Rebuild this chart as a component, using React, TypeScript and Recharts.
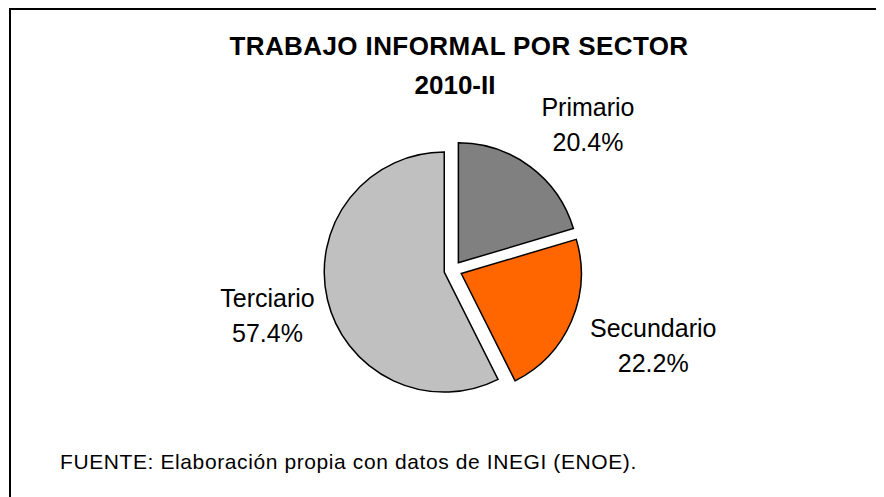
import React from 'react';
import { PieChart, Pie, Cell, Sector } from 'recharts';

const categories = ['Primario', 'Secundario', 'Terciario'];
const shares = [20.4, 22.2, 57.4];
const sliceColors = ['#808080', '#FF6600', '#C0C0C0'];
const titleLines = ['TRABAJO INFORMAL POR SECTOR', '2010-II'];
const sourceNote = 'FUENTE: Elaboración propia con datos de INEGI (ENOE).';

const data = categories.map((name, i) => ({ name, value: shares[i] }));

const RAD = Math.PI / 180;
const EXPLODE = 9;
const FONT = '"Liberation Sans", Arial, Helvetica, sans-serif';

const ExplodedSector = (props: any) => {
  const { cx, cy, midAngle } = props;
  const dx = Math.cos(-midAngle * RAD) * EXPLODE;
  const dy = Math.sin(-midAngle * RAD) * EXPLODE;
  return <Sector {...props} cx={cx + dx} cy={cy + dy} />;
};

const renderLabel = (props: any) => {
  const { cx, cy, midAngle, outerRadius } = props;
  const name = props.name ?? props.payload?.name;
  const value = props.value ?? props.payload?.value;
  const ux = Math.cos(-midAngle * RAD);
  const uy = Math.sin(-midAngle * RAD);
  const pct = `${Number(value).toFixed(1)}%`;
  const bx = cx + (outerRadius + 84) * ux + 13;
  const by = cy + (outerRadius + 65) * uy + 2;
  return (
    <text x={bx} y={by} textAnchor="middle" fontFamily={FONT} fontSize={25} fill="#000">
      <tspan x={bx} y={by - 8}>{name}</tspan>
      <tspan x={bx} y={by + 27}>{pct}</tspan>
    </text>
  );
};

export default function App() {
  return (
    <div style={{ position: 'relative', width: 876, height: 489, overflow: 'hidden' }}>
      <div
        style={{
          position: 'absolute',
          left: 1,
          top: 0,
          width: 900,
          height: 600,
          borderTop: '2px solid #000',
          borderLeft: '2px solid #000',
          boxSizing: 'border-box',
        }}
      />
      <div style={{ position: 'absolute', left: 0, top: 0 }}>
        <PieChart width={876} height={489}>
          <text x={451} y={47} textAnchor="middle" fontFamily={FONT} fontSize={26} fontWeight="bold" letterSpacing={0.4} fill="#000">
            {titleLines[0]}
          </text>
          <text x={447} y={86} textAnchor="middle" fontFamily={FONT} fontSize={26} fontWeight="bold" fill="#000">
            {titleLines[1]}
          </text>
          <text x={52} y={461} fontFamily={FONT} fontSize={21} letterSpacing={0.6} fill="#000">
            {sourceNote}
          </text>
          <Pie
            data={data}
            dataKey="value"
            nameKey="name"
            cx={440}
            cy={257}
            outerRadius={120}
            startAngle={90}
            endAngle={-270}
            stroke="#000"
            strokeWidth={1.5}
            isAnimationActive={false}
            shape={ExplodedSector}
            label={renderLabel}
            labelLine={false}
          >
            {data.map((d, i) => (
              <Cell key={d.name} fill={sliceColors[i]} />
            ))}
          </Pie>
        </PieChart>
      </div>
    </div>
  );
}
